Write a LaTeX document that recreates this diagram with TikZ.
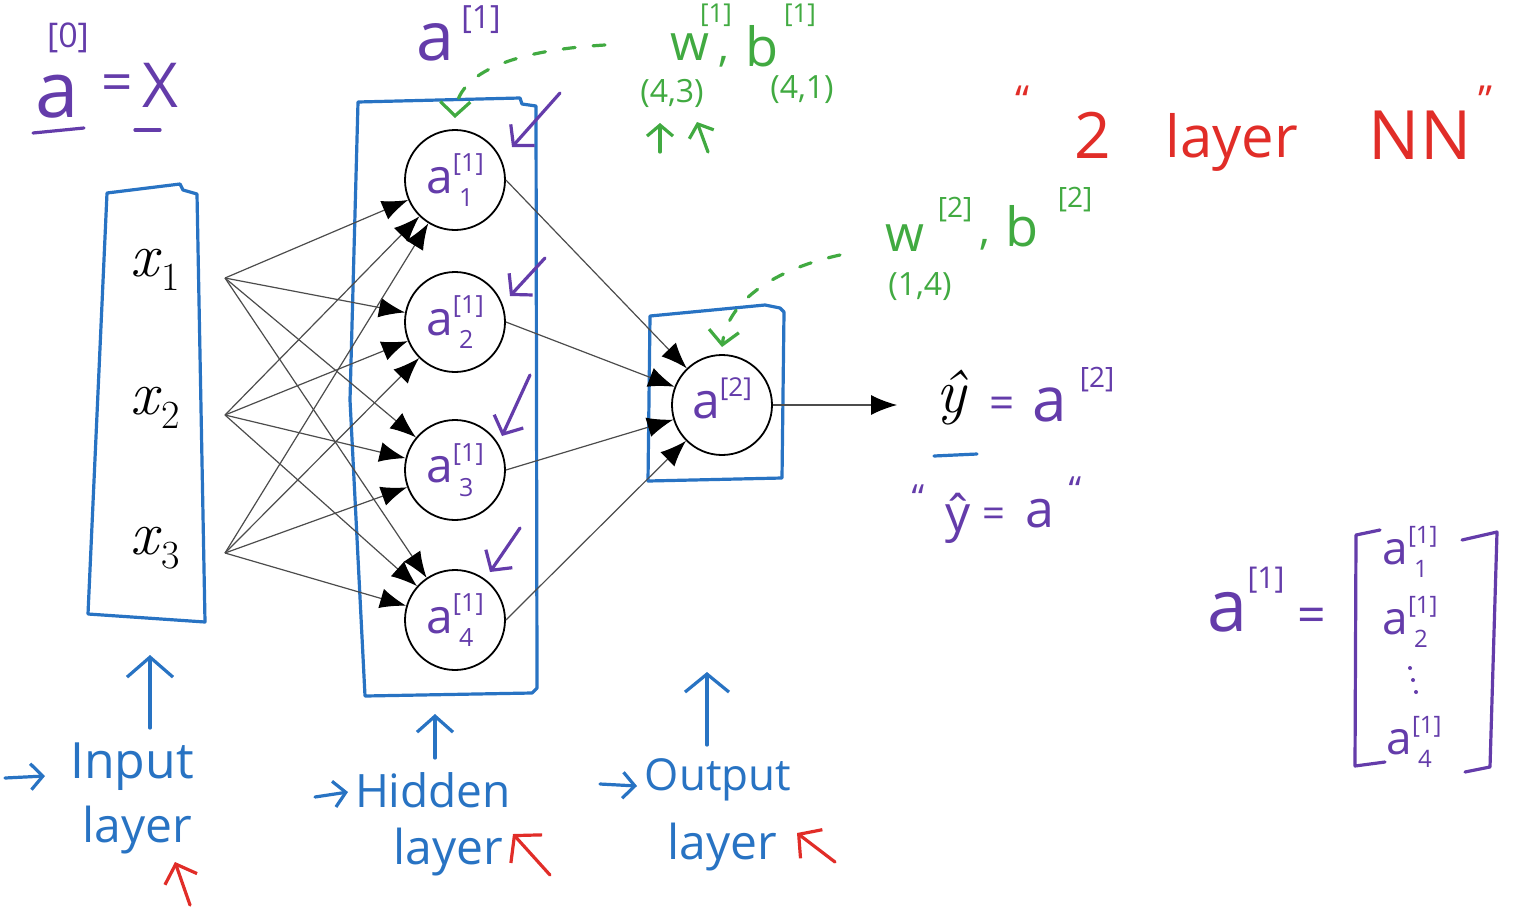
\documentclass[tikz,border=0pt]{standalone}
\usepackage{fontspec}
\newfontfamily\hand{Open Sans}
\usetikzlibrary{arrows.meta}
\definecolor{hpurple}{RGB}{100,60,170}
\definecolor{hblue}{RGB}{40,115,195}
\definecolor{hgreen}{RGB}{65,170,65}
\definecolor{hred}{RGB}{225,45,40}
\newcommand\fs[1]{\fontsize{#1}{#1}\selectfont}
% a with superscript #2 and subscript #3, script size #1
\newcommand\asup[3]{a\makebox[0pt][l]{\raisebox{0.45em}{\fs{#1}[#2]}}\makebox[0pt][l]{\raisebox{-0.28em}{\fs{#1}\hspace{0.25em}#3}}\hphantom{\fs{#1}[#2]}}
\newcommand\xsub[1]{\textit{x}\raisebox{-0.22em}{\fs{40}#1}}
\begin{document}
\begin{tikzpicture}[x=1pt,y=-1pt,
  neuron/.style={circle, draw=black, line width=1.8pt, minimum size=100pt, inner sep=0pt, text=hpurple, font=\hand},
  edge/.style={draw=black!70, line width=1.2pt, -{Latex[length=26pt,width=20pt,black]}},
  pen/.style={line width=3.2pt, line cap=round, line join=round},
  bluebox/.style={pen, draw=hblue},
  barb/.style={-{Straight Barb[length=14pt,width=30pt]}},
  pu/.style={text=hpurple, inner sep=0pt, font=\hand},
  gr/.style={text=hgreen, inner sep=0pt, font=\hand},
  bl/.style={text=hblue, inner sep=0pt, font=\hand},
  rd/.style={text=hred, inner sep=0pt, font=\hand},
  gdash/.style={pen, draw=hgreen, dash pattern=on 12pt off 18pt}
]
\fill[white] (0,0) rectangle (1517,908);
\useasboundingbox (0,0) rectangle (1517,908);

% ---------- blue boxes ----------
\draw[bluebox] (107,193) -- (180,184) -- (183,190) -- (197,194) -- (205,622) -- (88,614) -- cycle;
\draw[bluebox] (358,102) -- (520,98) -- (522,104) -- (536,106) -- (537,688) -- (532,693) -- (365,696) -- (350,400) -- cycle;
\draw[bluebox] (650,316) -- (765,305) -- (780,308) -- (784,312) -- (782,478) -- (648,481) -- cycle;

% ---------- input labels ----------
\node (x1) at (155,270) {\fs{62}\xsub{1}};
\node (x2) at (155,408) {\fs{62}\xsub{2}};
\node (x3) at (155,548) {\fs{62}\xsub{3}};
\coordinate (i1) at (225,278);
\coordinate (i2) at (225,415);
\coordinate (i3) at (225,553);

% ---------- neurons ----------
\node[neuron] (h1) at (455,180) {\fs{48}\asup{25}{1}{1}};
\node[neuron] (h2) at (455,322) {\fs{48}\asup{25}{1}{2}};
\node[neuron] (h3) at (455,470) {\fs{48}\asup{25}{1}{3}};
\node[neuron] (h4) at (455,620) {\fs{48}\asup{25}{1}{4}};
\node[neuron] (o) at (722,405) {\fs{50}\asup{26}{2}{}};

\foreach \i in {i1,i2,i3}{
  \foreach \h in {h1,h2,h3,h4}{
    \draw[edge] (\i) -- (\h);
  }
}
\foreach \h in {h1,h2,h3,h4}{
  \draw[edge] (\h.east) -- (o);
}
\coordinate (yend) at (897,405);
\draw[edge] (o) -- (yend);

% ---------- a[0] = X ----------
\node[pu] (a0) at (57,97) {\fs{78}a};
\node[pu] (a0s) at (68,38) {\fs{34}[0]};
\node[pu] (a0eq) at (117,88) {\fs{55}=};
\node[pu] (X) at (160,85) {\fs{62}X};
\coordinate (u1a) at (33,133); \coordinate (u1b) at (84,128);
\coordinate (u2a) at (135,130); \coordinate (u2b) at (160,130);
\draw[pen, draw=hpurple] (u1a) -- (u1b);
\draw[pen, draw=hpurple] (u2a) -- (u2b);

% ---------- a[1] on top ----------
\node[pu] (a1) at (435,42) {\fs{68}a};
\node[pu] (a1s) at (481,20) {\fs{32}[1]};

% ---------- w[1], b[1] ----------
\node[gr] (w1) at (690,47) {\fs{50}w};
\node[gr] (w1s) at (716,15) {\fs{26}[1]};
\node[gr] (c1) at (724,62) {\fs{44},};
\node[gr] (b1) at (762,46) {\fs{54}b};
\node[gr] (b1s) at (800,15) {\fs{26}[1]};
\node[gr] (d43) at (672,93) {\fs{32}(4,3)};
\node[gr] (d41) at (802,90) {\fs{32}(4,1)};
\coordinate (g1a) at (660,152); \coordinate (g1b) at (660,123);
\coordinate (g2a) at (708,152); \coordinate (g2b) at (697,122);
\draw[pen, draw=hgreen, -{Straight Barb[length=11pt,width=26pt]}] (g1a) -- (g1b);
\draw[pen, draw=hgreen, -{Straight Barb[length=11pt,width=26pt]}] (g2a) -- (g2b);
\coordinate (gd1s) at (605,45); \coordinate (gd1e) at (455,118);
\draw[gdash, barb] (gd1s) .. controls (520,50) and (456,70) .. (gd1e);

% ---------- "2 layer NN" ----------
\node[rd] (q1) at (1022,100) {\fs{40}“};
\node[rd] (two) at (1093,135) {\fs{64}2};
\node[rd] (lay) at (1232,142) {\fs{58}layer};
\node[rd] (nn) at (1420,135) {\fs{68}NN};
\node[rd] (q2) at (1485,100) {\fs{40}”};

% ---------- w[2], b[2] ----------
\node[gr] (w2) at (905,238) {\fs{50}w};
\node[gr] (w2s) at (955,210) {\fs{28}[2]};
\node[gr] (c2) at (985,245) {\fs{44},};
\node[gr] (b2) at (1022,226) {\fs{54}b};
\node[gr] (b2s) at (1075,200) {\fs{28}[2]};
\node[gr] (d14) at (920,287) {\fs{32}(1,4)};
\coordinate (gd2s) at (840,255); \coordinate (gd2e) at (722,347);
\draw[gdash, barb] (gd2s) .. controls (780,268) and (728,298) .. (gd2e);

% ---------- purple small arrows ----------
\coordinate (p1a) at (560,93);  \coordinate (p1b) at (512,147);
\coordinate (p2a) at (545,258); \coordinate (p2b) at (510,296);
\coordinate (p3a) at (530,375); \coordinate (p3b) at (502,436);
\coordinate (p4a) at (520,528); \coordinate (p4b) at (490,572);
\foreach \s/\e in {p1a/p1b,p2a/p2b,p3a/p3b,p4a/p4b}{
  \draw[pen, draw=hpurple, -{Straight Barb[length=14pt,width=32pt]}] (\s) -- (\e);
}

% ---------- y hat = a[2] ----------
\node (yhat) at (953,398) {\fs{62}\textit{ŷ}};
\coordinate (yu1) at (934,456); \coordinate (yu2) at (977,454);
\draw[pen, draw=hblue] (yu1) -- (yu2);
\node[pu] (yeq) at (1002,408) {\fs{44}=};
\node[pu] (ya) at (1050,405) {\fs{62}a};
\node[pu] (yas) at (1097,380) {\fs{28}[2]};

\node[pu] (q3) at (918,498) {\fs{36}“};
\node[pu] (y2) at (958,518) {\fs{50}ŷ};
\node[pu] (eq2) at (994,518) {\fs{40}=};
\node[pu] (a2) at (1040,514) {\fs{52}a};
\node[pu] (q4) at (1075,490) {\fs{36}“};

% ---------- matrix ----------
\node[pu] (ma) at (1228,612) {\fs{72}a};
\node[pu] (mas) at (1266,580) {\fs{30}[1]};
\node[pu] (meq) at (1312,620) {\fs{50}=};
\coordinate (lb1) at (1380,530); \coordinate (lb2) at (1356,535);
\coordinate (lb3) at (1355,766); \coordinate (lb4) at (1385,762);
\coordinate (rb1) at (1462,540); \coordinate (rb2) at (1497,532);
\coordinate (rb3) at (1490,767); \coordinate (rb4) at (1465,772);
\draw[pen, draw=hpurple] (lb1) -- (lb2) -- (lb3) -- (lb4);
\draw[pen, draw=hpurple] (rb1) -- (rb2) -- (rb3) -- (rb4);
\node[pu] (m1) at (1410,552) {\fs{46}\asup{24}{1}{1}};
\node[pu] (m2) at (1410,622) {\fs{46}\asup{24}{1}{2}};
\fill[hpurple] (1410,668) circle (2pt) (1413,680) circle (2pt) (1416,692) circle (2pt);
\node[pu] (m4) at (1414,742) {\fs{46}\asup{24}{1}{4}};

% ---------- bottom labels ----------
\coordinate (ua1) at (150,728); \coordinate (ua2) at (150,655);
\draw[pen, draw=hblue, -{Straight Barb[length=20pt,width=46pt]}] (ua1) -- (ua2);
\coordinate (sa1) at (5,778); \coordinate (sa2) at (45,776);
\draw[pen, draw=hblue, -{Straight Barb[length=12pt,width=26pt]}] (sa1) -- (sa2);
\node[bl] (inp) at (132,767) {\fs{50}Input};
\node[bl] (inl) at (137,830) {\fs{48}layer};
\coordinate (ra1) at (190,905); \coordinate (ra2) at (175,862);
\draw[pen, draw=hred, -{Straight Barb[length=16pt,width=34pt]}] (ra1) -- (ra2);

\coordinate (ub1) at (435,758); \coordinate (ub2) at (435,714);
\draw[pen, draw=hblue, -{Straight Barb[length=16pt,width=36pt]}] (ub1) -- (ub2);
\coordinate (sb1) at (315,797); \coordinate (sb2) at (348,792);
\draw[pen, draw=hblue, -{Straight Barb[length=12pt,width=26pt]}] (sb1) -- (sb2);
\node[bl] (hid) at (433,790) {\fs{46}Hidden};
\node[bl] (hil) at (448,852) {\fs{48}layer};
\coordinate (rb5) at (550,875); \coordinate (rb6) at (513,834);
\draw[pen, draw=hred, -{Straight Barb[length=18pt,width=42pt]}] (rb5) -- (rb6);

\coordinate (uc1) at (707,745); \coordinate (uc2) at (707,672);
\draw[pen, draw=hblue, -{Straight Barb[length=18pt,width=44pt]}] (uc1) -- (uc2);
\coordinate (sc1) at (600,784); \coordinate (sc2) at (637,786);
\draw[pen, draw=hblue, -{Straight Barb[length=12pt,width=26pt]}] (sc1) -- (sc2);
\node[bl] (outp) at (718,780) {\fs{44}Output};
\node[bl] (outl) at (722,847) {\fs{48}layer};
\coordinate (rc1) at (835,862); \coordinate (rc2) at (797,833);
\draw[pen, draw=hred, -{Straight Barb[length=16pt,width=36pt]}] (rc1) -- (rc2);
\end{tikzpicture}
\end{document}
